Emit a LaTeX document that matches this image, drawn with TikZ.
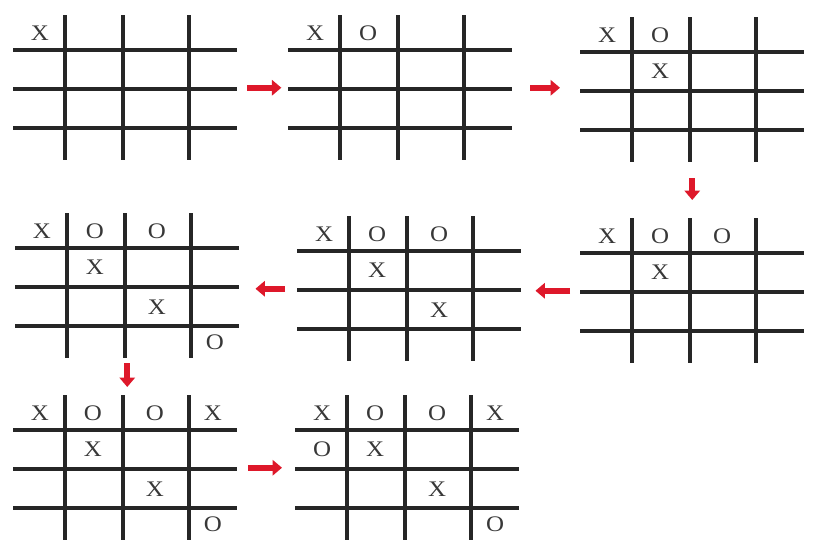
\documentclass[tikz,border=0pt]{standalone}
\usepackage{fontspec}
\setmainfont{Liberation Serif}
\usetikzlibrary{arrows.meta, calc}
\colorlet{gridline}{black!85}
\colorlet{pieceink}{black!78}
\definecolor{moveArrow}{RGB}{222,24,42}
\tikzset{
  boardbox/.style ={minimum width=6.72cm, minimum height=4.35cm,
                    inner sep=0pt, anchor=north west},
  gridrule/.style ={gridline, line width=2.7pt},
  piece/.style    ={font=\fontsize{19}{19}\selectfont, text=pieceink,
                    inner sep=0pt, xscale=1.12},
  nextmove/.style ={-{Triangle[length=8pt, width=13pt]}, moveArrow,
                    line width=5pt},
}

\begin{document}
\begin{tikzpicture}[x=0.03cm, y=-0.03cm]
\useasboundingbox (0,0) rectangle (834,554);

% boards, in playing order
\node[boardbox] (s1) at ( 13, 15) {};
\node[boardbox] (s2) at (288, 15) {};
\node[boardbox] (s3) at (580, 17) {};
\node[boardbox] (s4) at (580,218) {};
\node[boardbox] (s5) at (297,216) {};
\node[boardbox] (s6) at ( 15,213) {};
\node[boardbox] (s7) at ( 13,395) {};
\node[boardbox] (s8) at (295,395) {};

% grid lines
\foreach \n in {1,...,8} {
  \begin{scope}[shift={(s\n.north west)}]
    \foreach \gx in {52,110,176} \draw[gridrule] (\gx,0) -- (\gx,145);
    \foreach \gy in {35,74,113}  \draw[gridrule] (0,\gy) -- (224,\gy);
  \end{scope}
}

% moves: board n shows the first n of them
\foreach \r/\c/\p [count=\k] in {1/1/X, 1/2/O, 2/2/X, 1/3/O,
                                 3/3/X, 4/4/O, 1/4/X, 2/1/O} {
  \pgfmathsetmacro\cx{{27,80,142,200}[\c-1]}
  \pgfmathsetmacro\cy{{18,54,94,129}[\r-1]}
  \foreach \n in {\k,...,8}
    \node[piece] (s\n-\r\c) at ($(s\n.north west)+(\cx,\cy)$) {\p};
}

% order of play
\draw[nextmove, shorten <=0.30cm, shorten >=0.20cm] (s1.east) -- (s2.west);
\draw[nextmove, shorten <=0.54cm, shorten >=0.60cm] (s2.east) -- (s2.east -| s3.west);
\draw[nextmove, shorten <=0.48cm, shorten >=0.54cm] (s3.south) -- (s4.north);
\draw[nextmove, shorten <=0.30cm, shorten >=0.42cm] (s4.west) -- (s4.west -| s5.east);
\draw[nextmove, shorten <=0.36cm, shorten >=0.48cm] (s5.west) -- (s5.west -| s6.east);
\draw[nextmove, shorten <=0.15cm, shorten >=0.24cm] (s6.south) -- (s6.south |- s7.north);
\draw[nextmove, shorten <=0.33cm, shorten >=0.39cm] (s7.east) -- (s8.west);

\end{tikzpicture}
\end{document}
